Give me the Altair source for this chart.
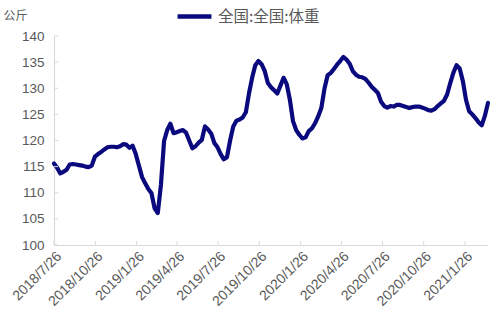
import altair as alt
import pandas as pd

# Weekly values, starting 2018-07-26
start_date = "2018-07-26"
weights = [
    115.6, 114.8, 113.7, 114.0, 114.4, 115.4, 115.5, 115.4, 115.3, 115.2,
    115.0, 114.9, 115.2, 116.9, 117.4, 117.8, 118.3, 118.7, 118.8, 118.8,
    118.7, 118.9, 119.3, 119.2, 118.6, 119.0, 117.4, 115.2, 113.0, 111.8,
    110.7, 109.9, 107.0, 106.1, 111.5, 119.9, 122.0, 123.2, 121.4, 121.6,
    121.8, 122.0, 121.5, 120.0, 118.5, 118.9, 119.6, 120.1, 122.7, 122.1,
    121.3, 119.5, 118.7, 117.4, 116.4, 116.8, 120.0, 122.7, 123.8, 124.0,
    124.4, 125.4, 129.0, 132.0, 134.4, 135.2, 134.6, 133.3, 131.0, 130.2,
    129.6, 129.0, 130.5, 132.0, 130.8, 127.8, 123.7, 122.0, 121.1, 120.4,
    120.6, 121.8, 122.3, 123.3, 124.6, 126.2, 129.9, 132.5, 132.9, 133.7,
    134.5, 135.2, 136.0, 135.5, 134.7, 133.3, 132.6, 132.2, 132.1, 131.8,
    131.1, 130.3, 129.7, 129.1, 127.4, 126.6, 126.3, 126.6, 126.5, 126.8,
    126.8, 126.6, 126.4, 126.2, 126.4, 126.5, 126.5, 126.3, 126.1, 125.8,
    125.7, 126.0, 126.6, 127.1, 127.6, 128.8, 131.0, 133.0, 134.4, 133.8,
    131.4, 127.8, 125.6, 125.0, 124.3, 123.5, 122.9, 124.7, 127.2,
]
series_name = "全国:全国:体重"
tick_dates = [
    "2018-07-26", "2018-10-26", "2019-01-26", "2019-04-26", "2019-07-26",
    "2019-10-26", "2020-01-26", "2020-04-26", "2020-07-26", "2020-10-26",
    "2021-01-26",
]
y_ticks = [100, 105, 110, 115, 120, 125, 130, 135, 140]

dates = pd.date_range(start_date, periods=len(weights), freq="7D")
df = pd.DataFrame({
    "date": dates.strftime("%Y-%m-%d"),
    "value": weights,
    "series": series_name,
})
xt = pd.DataFrame({"date": tick_dates})
yt = pd.DataFrame({"v": y_ticks})

W, H = 434, 209
LINE = "#0a0a7e"
GRAY = "#d9d9d9"
LAB = "#595959"

def to_dt(s):
    y, m, d = map(int, s.split("-"))
    return alt.DateTime(year=y, month=m, date=d, utc=True)

xscale = alt.Scale(type="utc", domain=[to_dt(df["date"].iloc[0]), to_dt(df["date"].iloc[-1])])
yscale = alt.Scale(domain=[100, 140], nice=False, zero=False)

xaxis = alt.Axis(
    values=[to_dt(s) for s in tick_dates],
    labelExpr="utcFormat(datum.value, '%Y/%-m/%-d')",
    labelAngle=315, labelPadding=4, ticks=False, grid=False,
    domainColor=GRAY, domainWidth=1.2,
    labelColor=LAB, labelFont="Liberation Sans", labelFontSize=14,
    labelOverlap=False, labelFlush=False, title=None)
yaxis = alt.Axis(
    values=y_ticks, ticks=False, grid=False, labelOverlap=False,
    labelFlush=False,
    domainColor=GRAY, domainWidth=1.2,
    labelColor=LAB, labelFont="Liberation Sans", labelFontSize=13.5,
    labelPadding=10,
    title="公斤", titleAngle=0, titleAlign="left", titleBaseline="middle",
    titleX=-51, titleY=-21, titleFont="Noto Sans CJK SC",
    titleFontSize=12, titleFontWeight="normal", titleColor=LAB)

line = alt.Chart(df).mark_line(strokeWidth=4.2, strokeJoin="round", strokeCap="round").encode(
    x=alt.X("date:T", scale=xscale, axis=xaxis),
    y=alt.Y("value:Q", scale=yscale, axis=yaxis),
    color=alt.Color("series:N", scale=alt.Scale(range=[LINE]), legend=alt.Legend(
        title=None, orient="none", legendX=121, legendY=-39,
        symbolType="stroke", symbolStrokeWidth=4.5, symbolSize=1150,
        labelFont="Noto Sans CJK SC", labelFontSize=15.5, labelColor=LAB,
        labelOffset=4)),
)

xticks = alt.Chart(xt).mark_rule(color=GRAY, strokeWidth=1).encode(
    x=alt.X("date:T", scale=xscale, axis=xaxis),
    y=alt.value(H), y2=alt.value(H - 4),
)
yticks = alt.Chart(yt).mark_rule(color=GRAY, strokeWidth=1).encode(
    y=alt.Y("v:Q", scale=yscale, axis=yaxis),
    x=alt.value(0), x2=alt.value(4),
)

chart = alt.layer(line, xticks, yticks).properties(
    width=W, height=H,
    autosize=alt.AutoSizeParams(type="none"),
    padding={"left": 54, "top": 36, "right": 10, "bottom": 72},
    background="white",
).configure_view(stroke=None)

chart.save("out.html", embed_options={"renderer": "svg", "actions": False})
